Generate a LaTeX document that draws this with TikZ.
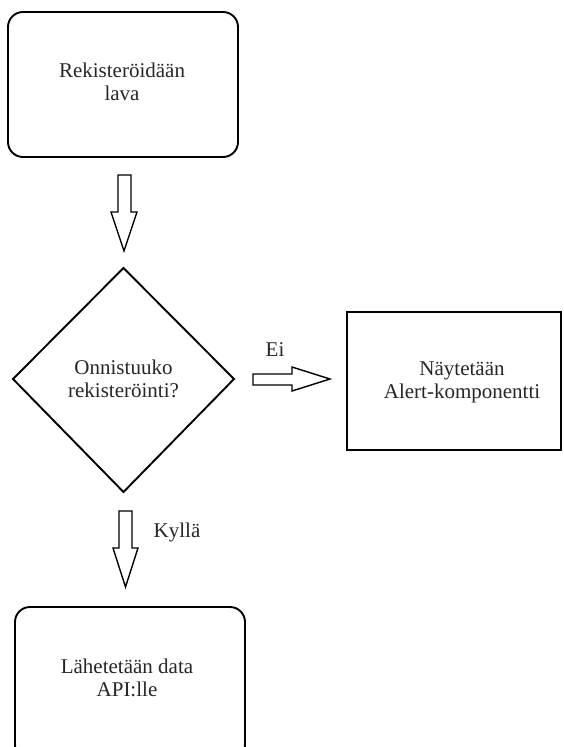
\documentclass[tikz,border=0pt]{standalone}
\usepackage{fontspec}
\setmainfont{Liberation Serif}
\usetikzlibrary{shapes.geometric}
\begin{document}
\begin{tikzpicture}[x=1pt,y=-1pt,
  boxline/.style={draw=black,line width=1.9pt},
  blockarrow/.style={draw=black,line width=1.4pt,line join=miter,fill=white},
  lbl/.style={font=\fontsize{21}{23}\selectfont,text=black!85,align=center,inner sep=0pt}]
\useasboundingbox (0,0) rectangle (564,747);
% shapes
\draw[boxline,rounded corners=15pt] (8,12) rectangle (238,157);
\node[lbl] (reg) at (122,82) {Rekisteröidään\\lava};
\draw[boxline,line join=miter] (123.5,268) -- (234,379) -- (123.5,492) -- (13,379) -- cycle;
\node[lbl] (dec) at (123.5,379) {Onnistuuko\\rekisteröinti?};
\draw[boxline] (347,312) rectangle (561,450);
\node[lbl] (alert) at (462,382) {Näytetään\\Alert-komponentti};
\draw[boxline,rounded corners=15pt] (15,607) rectangle (245,760);
\node[lbl] (send) at (127,678) {Lähetetään data\\API:lle};
% block arrows
\draw[blockarrow] (118,175) -- (131,175) -- (131,212) -- (137,212) -- (124,251) -- (111,212) -- (118,212) -- cycle;
\draw[blockarrow] (253,374) -- (292,374) -- (292,367) -- (330,379) -- (292,391) -- (292,385) -- (253,385) -- cycle;
\draw[blockarrow] (119,511) -- (132,511) -- (132,548) -- (138,548) -- (125.5,587) -- (113,548) -- (119,548) -- cycle;
\node[lbl] (ei) at (275,350) {Ei};
\node[lbl] (kylla) at (177,532) {Kyllä};
\end{tikzpicture}
\end{document}
